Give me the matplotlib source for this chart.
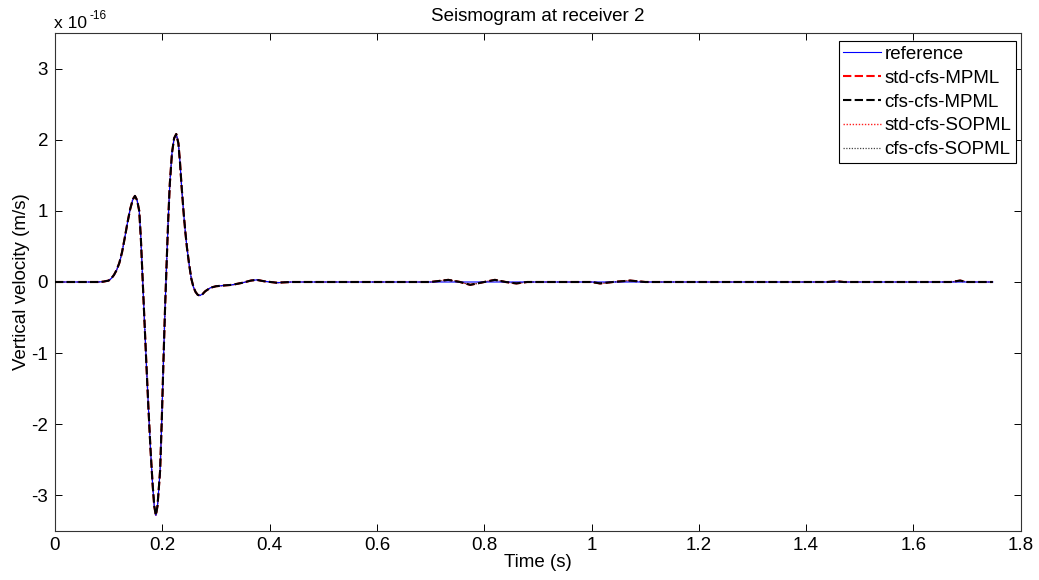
import matplotlib
matplotlib.use("Agg")
import matplotlib.pyplot as plt
from matplotlib.ticker import FuncFormatter

plt.rcParams['font.family'] = ['Liberation Sans', 'DejaVu Sans']

SCALE = 1e-16

# Main wavelet (time in s, vertical velocity in units of 1e-16 m/s)
t_wave = [0.0, 0.08, 0.09, 0.100, 0.105, 0.110, 0.115, 0.120, 0.125, 0.130, 0.135,
          0.140, 0.145, 0.149, 0.153, 0.157, 0.160, 0.163, 0.166, 0.170, 0.174,
          0.178, 0.182, 0.185, 0.188, 0.191, 0.194, 0.196, 0.199, 0.202, 0.205,
          0.208, 0.211, 0.214, 0.218, 0.222, 0.226, 0.230, 0.233, 0.236, 0.240,
          0.243, 0.246, 0.250, 0.254, 0.258, 0.262, 0.266, 0.270, 0.275, 0.280,
          0.290, 0.300, 0.313, 0.330, 0.350, 0.365, 0.376, 0.390, 0.413, 0.440]
v_wave = [0.0, 0.0, 0.005, 0.02, 0.05, 0.10, 0.17, 0.27, 0.42, 0.62, 0.83,
          1.02, 1.16, 1.21, 1.15, 1.00, 0.62, 0.10, -0.42, -1.10, -1.75,
          -2.35, -2.85, -3.15, -3.28, -3.15, -2.85, -2.64, -1.95, -1.15, -0.40,
          0.25, 0.87, 1.38, 1.81, 2.02, 2.08, 1.95, 1.68, 1.34, 0.95,
          0.70, 0.48, 0.25, 0.05, -0.07, -0.14, -0.18, -0.19, -0.17, -0.13,
          -0.08, -0.06, -0.05, -0.04, -0.01, 0.02, 0.03, 0.01, -0.01, 0.0]

# Tail of the reference trace
t_ref_tail = [1.748]
v_ref_tail = [0.0]

# Tail of the PML traces (small spurious reflections)
t_pml_tail = [0.70, 0.733, 0.755, 0.774, 0.800, 0.820, 0.840, 0.860, 0.880,
              1.000, 1.016, 1.040, 1.072, 1.100, 1.440, 1.457, 1.470,
              1.670, 1.687, 1.700, 1.748]
v_pml_tail = [0.0, 0.03, 0.0, -0.04, 0.0, 0.03, 0.0, -0.02, 0.0,
              0.0, -0.02, 0.0, 0.02, 0.0, 0.0, 0.01, 0.0,
              0.0, 0.02, 0.0, 0.0]

labels = ['reference', 'std-cfs-MPML', 'cfs-cfs-MPML', 'std-cfs-SOPML', 'cfs-cfs-SOPML']

t_ref = t_wave + t_ref_tail
v_ref = [v * SCALE for v in v_wave + v_ref_tail]
t_pml = t_wave + t_pml_tail
v_pml = [v * SCALE for v in v_wave + v_pml_tail]

W, H = 1039, 580
FS = 13.5
fig = plt.figure(figsize=(W / 100, H / 100), dpi=100)
ax = fig.add_axes([55 / W, 49 / H, 965.7 / W, 498 / H])

ax.plot(t_ref, v_ref, color='#0000ff', lw=0.8, label=labels[0], zorder=4)
ax.plot(t_pml, v_pml, color='#ff0000', lw=1.5, ls=(0, (4, 1.6)), label=labels[1], zorder=1)
ax.plot(t_pml, v_pml, color='black', lw=1.5, ls=(0, (4, 1.6)), label=labels[2], zorder=5)
ax.plot(t_pml, v_pml, color='#ff2020', lw=1.0, ls=(0, (1, 1.2)), label=labels[3], zorder=2)
ax.plot(t_pml, v_pml, color='#444444', lw=0.9, ls=(0, (1, 1.2)), label=labels[4], zorder=3)

ax.set_xlim(0, 1.8)
ax.set_ylim(-3.5e-16, 3.5e-16)
ax.set_xticks([0, 0.2, 0.4, 0.6, 0.8, 1.0, 1.2, 1.4, 1.6, 1.8])
ax.set_xticklabels(['0', '0.2', '0.4', '0.6', '0.8', '1', '1.2', '1.4', '1.6', '1.8'])
ax.set_yticks([v * SCALE for v in [-3, -2, -1, 0, 1, 2, 3]])
ax.yaxis.set_major_formatter(FuncFormatter(lambda y, p: '%d' % round(y / SCALE)))

ax.tick_params(direction='in', top=True, right=True, length=5, width=0.7,
               labelsize=FS, colors='black')
ax.tick_params(axis='x', pad=4)
ax.tick_params(axis='y', pad=5)
for s in ax.spines.values():
    s.set_linewidth(0.8)
    s.set_color('#333333')

ax.set_xlabel('Time (s)', fontsize=FS, labelpad=0)
ax.set_ylabel('Vertical velocity (m/s)', fontsize=FS, labelpad=1)
fig.text((55 + 965.7 / 2) / W, 1 - 21 / H, 'Seismogram at receiver 2', fontsize=FS,
         ha='center', va='baseline')
fig.text(54 / W, 1 - 28.3 / H, 'x 10', fontsize=12.5, ha='left', va='baseline')
fig.text(89.5 / W, 1 - 19 / H, '-16', fontsize=8.5, ha='left', va='baseline')

leg = ax.legend(loc='upper right', bbox_to_anchor=(1016 / W, 1 - 41 / H),
                bbox_transform=fig.transFigure, fontsize=FS, fancybox=False,
                framealpha=1, edgecolor='black', handlelength=2.0,
                handletextpad=0.2, borderpad=0.25, labelspacing=0.36,
                borderaxespad=0)
leg.get_frame().set_linewidth(0.8)

fig.savefig('out.png', dpi=100)
